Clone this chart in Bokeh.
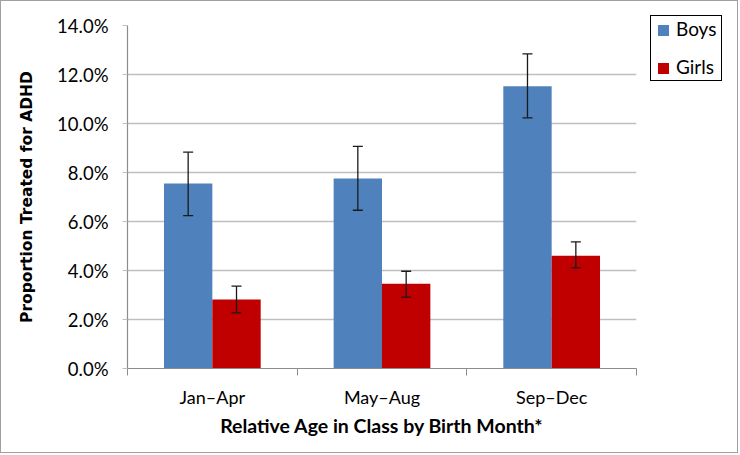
from bokeh.plotting import figure
from bokeh.layouts import row
from bokeh.models import (Range1d, FixedTicker, SingleIntervalTicker, NumeralTickFormatter,
                          ColumnDataSource, Whisker, TeeHead, Div)
from bokeh.embed import file_html
from bokeh.resources import INLINE

categories = ["Jan\u2013Apr", "May\u2013Aug", "Sep\u2013Dec"]
series = ["Boys", "Girls"]
colors = ["#4F81BD", "#C00000"]
boys = [0.0755, 0.0776, 0.1152]
boys_low = [0.0624, 0.0646, 0.1023]
boys_high = [0.0883, 0.0907, 0.1284]
girls = [0.0282, 0.0346, 0.0460]
girls_low = [0.0227, 0.0291, 0.0411]
girls_high = [0.0336, 0.0397, 0.0517]

BAR_W = 0.285
OFF = BAR_W / 2
centers = [i + 0.5 for i in range(len(categories))]

src_b = ColumnDataSource(dict(x=[c - OFF for c in centers], top=boys, lo=boys_low, hi=boys_high))
src_g = ColumnDataSource(dict(x=[c + OFF for c in centers], top=girls, lo=girls_low, hi=girls_high))
sources = [src_b, src_g]

H = 451
p = figure(width=640, height=H, output_backend="svg", toolbar_location=None,
           x_range=Range1d(0, len(categories)), y_range=Range1d(0, 0.14),
           min_border_left=126, min_border_right=5, min_border_top=24, min_border_bottom=84)
p.outline_line_color = None
p.background_fill_color = "white"
p.border_fill_color = "white"

for s, col in zip(sources, colors):
    p.vbar(x="x", top="top", width=BAR_W, source=s, fill_color=col, line_color=None)

for s in sources:
    w = Whisker(base="x", lower="lo", upper="hi", source=s, line_color="#1A1A1A", line_width=1.3,
                level="overlay",
                upper_head=TeeHead(size=10, line_color="#1A1A1A", line_width=1.3),
                lower_head=TeeHead(size=10, line_color="#1A1A1A", line_width=1.3))
    p.add_layout(w)

# x axis
p.xgrid.visible = False
p.xaxis.ticker = FixedTicker(ticks=centers, minor_ticks=list(range(len(categories) + 1)))
p.xaxis.major_label_overrides = {c: lab for c, lab in zip(centers, categories)}
p.xaxis.major_tick_line_color = None
p.xaxis.minor_tick_line_color = "#8C8C8C"
p.xaxis.minor_tick_out = 7
p.xaxis.minor_tick_in = 0
p.xaxis.axis_line_color = "#8C8C8C"
p.xaxis.axis_line_width = 1.2
p.xaxis.major_label_text_font = "Lato"
p.xaxis.major_label_text_font_size = "18px"
p.xaxis.major_label_text_color = "black"
p.xaxis.major_label_standoff = 10
p.xaxis.axis_label = "Relative Age in Class by Birth Month*"
p.xaxis.axis_label_text_font = "Lato"
p.xaxis.axis_label_text_font_style = "bold"
p.xaxis.axis_label_text_font_size = "19.5px"
p.xaxis.axis_label_text_color = "black"
p.xaxis.axis_label_standoff = 3

# y axis
p.yaxis.ticker = SingleIntervalTicker(interval=0.02)
p.yaxis.formatter = NumeralTickFormatter(format="0.0%")
p.yaxis.minor_tick_line_color = None
p.yaxis.major_tick_line_color = "#BFBFBF"
p.yaxis.major_tick_out = 5
p.yaxis.major_tick_in = 0
p.yaxis.axis_line_color = "#8C8C8C"
p.yaxis.axis_line_width = 1.2
p.yaxis.major_label_text_font = "Lato"
p.yaxis.major_label_text_font_size = "18.5px"
p.yaxis.major_label_text_color = "black"
p.yaxis.major_label_standoff = 14
p.yaxis.axis_label = "Proportion Treated for ADHD"
p.yaxis.axis_label_text_font = "DejaVu Sans"
p.yaxis.axis_label_text_font_style = "bold"
p.yaxis.axis_label_text_font_size = "15.5px"
p.yaxis.axis_label_text_color = "black"
p.yaxis.axis_label_standoff = 18
p.ygrid.grid_line_color = "#BFBFBF"
p.ygrid.grid_line_width = 1.5

# legend box to the right of the plot area (built from the series names and colours)
item_html = []
for i, (name, col) in enumerate(zip(series, colors)):
    mt = "0" if i == 0 else "16px"
    item_html.append(
        f'<div style="height:22px;line-height:22px;margin:{mt} 0 0 7px;white-space:nowrap;">'
        f'<span style="display:inline-block;width:11px;height:11px;background:{col};'
        f'margin-right:7px;vertical-align:middle;position:relative;top:-1px;"></span>{name}</div>'
    )
legend_html = (
    '<div style="margin:14px 0 0 9px;width:72px;height:66px;box-sizing:border-box;'
    'border:1.2px solid #000;background:#fff;padding-top:2px;'
    'font-family:Lato, sans-serif;font-size:19px;color:#000;">'
    + "".join(item_html) + '</div>'
)
legend_div = Div(text=legend_html, width=96, height=H, margin=0)
legend_div.styles = {"background": "white"}

lay = row(p, legend_div, spacing=0)
lay.styles = {"border": "1.5px solid #A0A0A0", "background": "white"}

open("out.html", "w").write(file_html(lay, INLINE))
